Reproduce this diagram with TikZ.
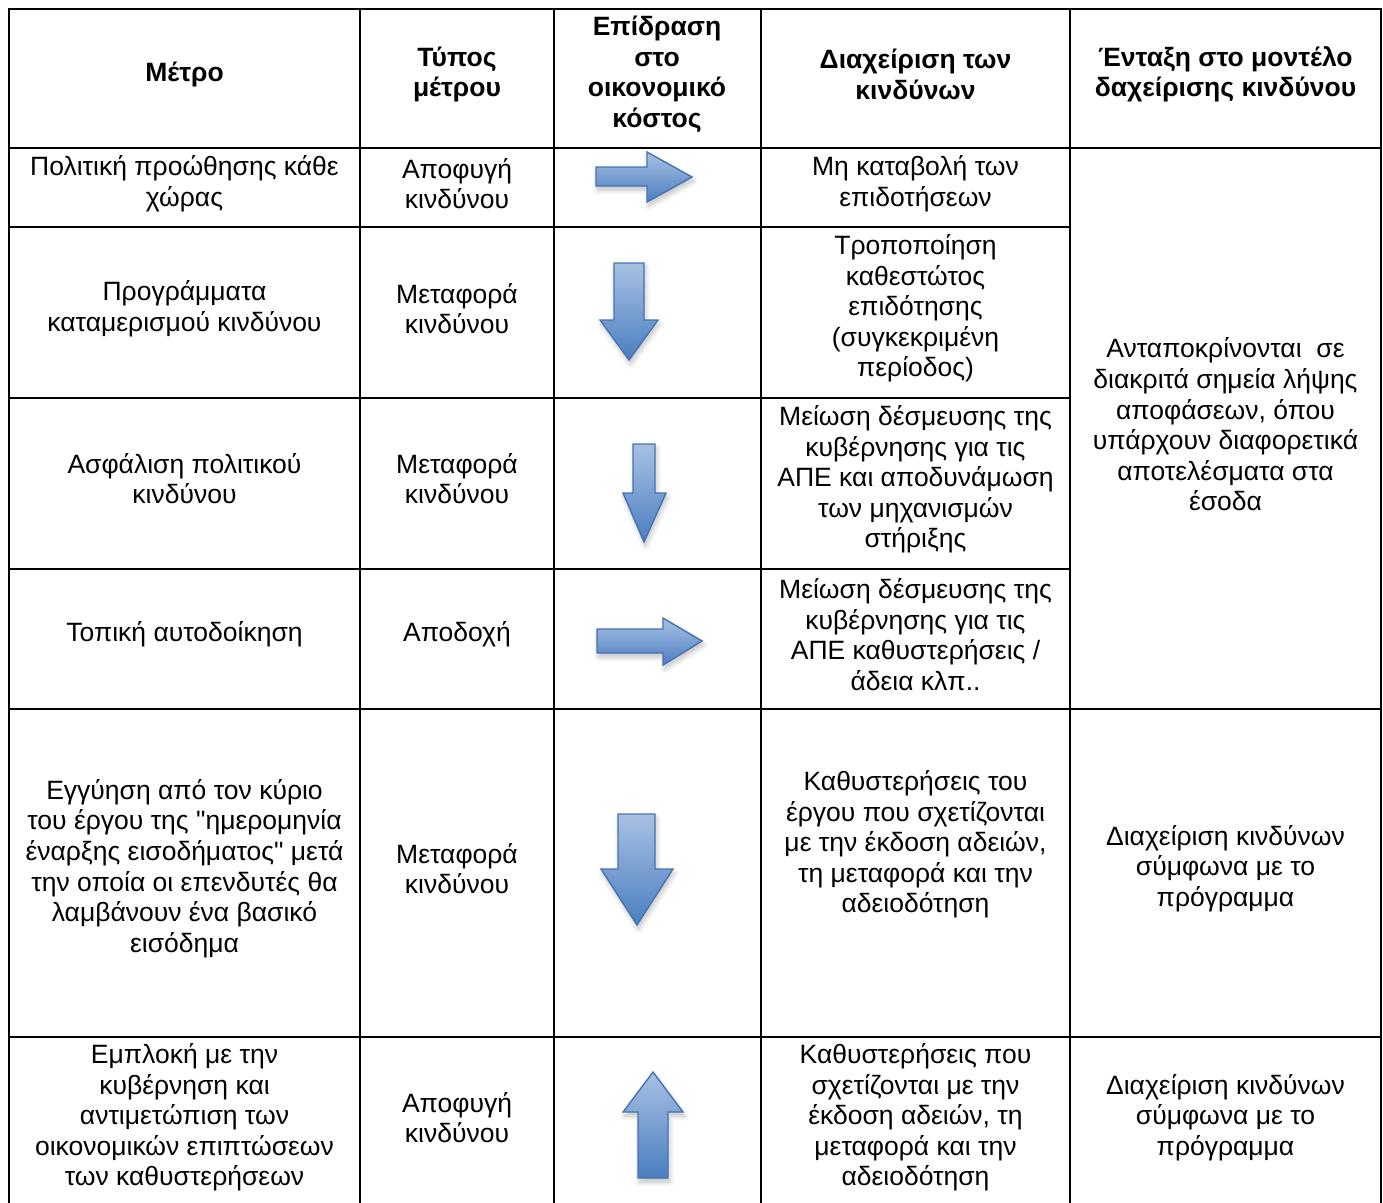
\documentclass[tikz,border=0pt]{standalone}
\usepackage{fontspec}
\setmainfont{Liberation Sans}[Ligatures=TeXOff]
\usetikzlibrary{shadows.blur}
\definecolor{arrtop}{HTML}{A8C1E3}
\definecolor{arrbot}{HTML}{4A7EC0}
\definecolor{arrline}{HTML}{4673B4}
\tikzset{
  grid/.style={line width=2.6pt, line cap=rect},
  cell/.style={align=center, inner sep=0pt, font=\fontsize{26.5}{30.6}\selectfont},
  headcell/.style={align=center, inner sep=0pt, font=\bfseries\fontsize{26.5}{30.6}\selectfont},
  arrowshape/.style={draw=arrline, line width=1.4pt, line join=miter, top color=arrtop, bottom color=arrbot,
    blur shadow={shadow xshift=1.5pt, shadow yshift=-4pt, shadow opacity=25, shadow blur steps=8, shadow blur radius=5pt}}
}
\begin{document}
\begin{tikzpicture}[x=1pt,y=-1pt]
\useasboundingbox (0,0) rectangle (1383,1202);
% grid
\draw[grid] (9,9) -- (1381,9);
\draw[grid] (9,148) -- (1381,148);
\draw[grid] (9,227) -- (1070,227);
\draw[grid] (9,398) -- (1070,398);
\draw[grid] (9,569) -- (1070,569);
\draw[grid] (9,709) -- (1381,709);
\draw[grid] (9,1037) -- (1381,1037);
\foreach \xx in {9,360,554,761,1070,1381} {\draw[grid] (\xx,9) -- (\xx,1210);}
\begin{scope}[yshift=-2.5pt]
% header
\node[headcell] (h1) at (184.5,72) {Μέτρο};
\node[headcell] (h2) at (457,72) {Τύπος\\μέτρου};
\node[headcell] (h3) at (657,72) {Επίδραση\\στο\\οικονομικό\\κόστος};
\node[headcell] (h4) at (915.5,72) {Διαχείριση των\\κινδύνων};
\node[headcell] (h5) at (1225.5,72) {Ένταξη στο μοντέλο\\δαχείρισης κινδύνου};
% row 1
\node[cell] (r1a) at (184.5,181) {Πολιτική προώθησης κάθε\\χώρας};
\node[cell] (r1b) at (457,181) {Αποφυγή\\κινδύνου};
\node[cell] (r1d) at (915.5,181) {Μη καταβολή των\\επιδοτήσεων};
% row 2
\node[cell] (r2a) at (184.5,306) {Προγράμματα\\καταμερισμού κινδύνου};
\node[cell] (r2b) at (457,306) {Μεταφορά\\κινδύνου};
\node[cell] (r2d) at (915.5,306) {Τροποποίηση\\καθεστώτος\\επιδότησης\\(συγκεκριμένη\\περίοδος)};
% row 3
\node[cell] (r3a) at (184.5,476) {Ασφάλιση πολιτικού\\κινδύνου};
\node[cell] (r3b) at (457,476) {Μεταφορά\\κινδύνου};
\node[cell] (r3d) at (915.5,477) {Μείωση δέσμευσης της\\κυβέρνησης για τις\\ΑΠΕ και αποδυνάμωση\\των μηχανισμών\\στήριξης};
% row 4
\node[cell] (r4a) at (184.5,632) {Τοπική αυτοδοίκηση};
\node[cell] (r4b) at (457,632) {Αποδοχή};
\node[cell] (r4d) at (915.5,632) {Μείωση δέσμευσης της\\κυβέρνησης για τις\\ΑΠΕ καθυστερήσεις /\\άδεια κλπ..};
% merged
\node[cell] (m5) at (1225.5,422) {Ανταποκρίνονται\ \ σε\\διακριτά σημεία λήψης\\αποφάσεων, όπου\\υπάρχουν διαφορετικά\\αποτελέσματα στα\\έσοδα};
% row 5
\node[cell] (r5a) at (184.5,866) {Εγγύηση από τον κύριο\\του έργου της "ημερομηνία\\έναρξης εισοδήματος" μετά\\την οποία οι επενδυτές θα\\λαμβάνουν ένα βασικό\\εισόδημα};
\node[cell] (r5b) at (457,866) {Μεταφορά\\κινδύνου};
\node[cell] (r5d) at (915.5,842) {Καθυστερήσεις του\\έργου που σχετίζονται\\με την έκδοση αδειών,\\τη μεταφορά και την\\αδειοδότηση};
\node[cell] (r5e) at (1225.5,866) {Διαχείριση κινδύνων\\σύμφωνα με το\\πρόγραμμα};
% row 6
\node[cell] (r6a) at (184.5,1115) {Εμπλοκή με την\\κυβέρνηση και\\αντιμετώπιση των\\οικονομικών επιπτώσεων\\των καθυστερήσεων};
\node[cell] (r6b) at (457,1115) {Αποφυγή\\κινδύνου};
\node[cell] (r6d) at (915.5,1115) {Καθυστερήσεις που\\σχετίζονται με την\\έκδοση αδειών, τη\\μεταφορά και την\\αδειοδότηση};
\node[cell] (r6e) at (1225.5,1115) {Διαχείριση κινδύνων\\σύμφωνα με το\\πρόγραμμα};
\end{scope}
% arrows
\path[arrowshape] (596,167) -- (647,167) -- (647,152) -- (692,177) -- (647,202) -- (647,186) -- (596,186) -- cycle;
\path[arrowshape] (614,263) -- (644,263) -- (644,320) -- (658,320) -- (629,360) -- (600,320) -- (614,320) -- cycle;
\path[arrowshape] (633,444) -- (655,444) -- (655,493) -- (666,493) -- (644,542) -- (623,493) -- (633,493) -- cycle;
\path[arrowshape] (597,629) -- (663,629) -- (663,618) -- (702,641) -- (663,665) -- (663,653) -- (597,653) -- cycle;
\path[arrowshape] (618,814) -- (655,814) -- (655,869) -- (673,869) -- (637,925) -- (601,869) -- (618,869) -- cycle;
\path[arrowshape] (638,1178) -- (668,1178) -- (668,1112) -- (683,1112) -- (653,1072) -- (623,1112) -- (638,1112) -- cycle;
\end{tikzpicture}
\end{document}
